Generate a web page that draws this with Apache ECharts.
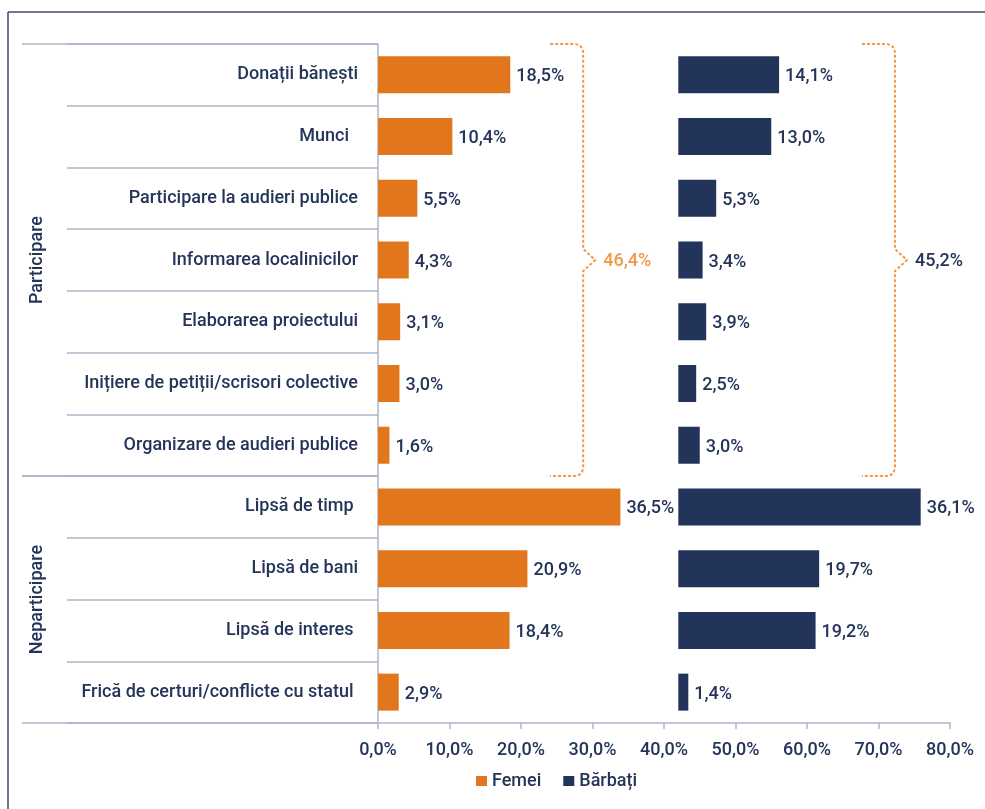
<!DOCTYPE html>
<html>
<head>
<meta charset="utf-8">
<script src="https://cdn.jsdelivr.net/npm/echarts@6/dist/echarts.min.js"></script>
<style>
  html, body { margin: 0; padding: 0; background: #fff; }
  #chart { width: 985px; height: 809px; }
</style>
</head>
<body>
<div id="chart"></div>
<script>
// Data
const categories = [
  'Donații bănești',
  'Munci  ',
  'Participare la audieri publice',
  'Informarea localinicilor',
  'Elaborarea proiectului',
  'Inițiere de petiții/scrisori colective',
  'Organizare de audieri publice',
  'Lipsă de timp ',
  'Lipsă de bani',
  'Lipsă de interes ',
  'Frică de certuri/conflicte cu statul ',
]
const femei = [18.5, 10.4, 5.5, 4.3, 3.1, 3.0, 1.6, 36.5, 20.9, 18.4, 2.9]
const barbati = [14.1, 13.0, 5.3, 3.4, 3.9, 2.5, 3.0, 36.1, 19.7, 19.2, 1.4]
const groups = [
  { name: 'Participare', from: 0, to: 6 },
  { name: 'Neparticipare', from: 7, to: 10 },
]
const seriesNames = ['Femei', 'Bărbați']

// Layout of the two panels on the shared 0-80 % axis
const navyStart = 42 // men's bars start here
const barCap = 33.9 // the original trims the two longest bars so they don't run into the next panel

// Colors
const navy = '#22345a'
const text = '#243559'
const orange = '#e1761d'
const braceOrange = '#f0994b'
const gridGray = '#aeb5c8'
const font = 'Roboto'

const pct = (v) => v.toFixed(1).replace('.', ',') + '%'
const sum = (arr, from, to) => arr.slice(from, to + 1).reduce((a, b) => a + b, 0)

const braces = [
  { x: 28.7, total: sum(femei, groups[0].from, groups[0].to), color: braceOrange },
  { x: 72.3, total: sum(barbati, groups[0].from, groups[0].to), color: text },
]

const chart = echarts.init(document.getElementById('chart'))

const option = {
  animation: false,
  backgroundColor: '#fff',
  textStyle: { fontFamily: font },
  grid: { left: 378, right: 35, top: 44, bottom: 86, outerBoundsMode: 'none' },
  legend: {
    data: seriesNames,
    selectedMode: false,
    left: 476,
    top: 772,
    padding: 0,
    icon: 'rect',
    itemWidth: 11,
    itemHeight: 10,
    itemGap: 22,
    textStyle: { fontSize: 18, fontWeight: 500, color: text, fontFamily: font },
  },
  xAxis: {
    type: 'value',
    min: 0,
    max: 80,
    interval: 10,
    axisLine: { show: true, lineStyle: { color: gridGray, width: 1.5 } },
    axisTick: { show: true, length: 6, lineStyle: { color: gridGray, width: 1.5 } },
    splitLine: { show: false },
    axisLabel: {
      formatter: pct,
      margin: 18,
      fontSize: 18,
      fontWeight: 500,
      color: text,
      fontFamily: font,
    },
  },
  yAxis: {
    type: 'category',
    data: categories,
    inverse: true,
    axisLine: { show: true, lineStyle: { color: gridGray, width: 1.5 } },
    axisTick: { show: true, length: 311, interval: 0, lineStyle: { color: gridGray, width: 1.5 } },
    axisLabel: {
      interval: 0,
      margin: 20,
      padding: [4, 0, 0, 0],
      fontSize: 18,
      fontWeight: 500,
      color: text,
      fontFamily: font,
    },
  },
  series: [
    {
      name: seriesNames[0],
      type: 'bar',
      data: femei.map((v) => Math.min(v, barCap)),
      barWidth: 37,
      barGap: '-100%',
      itemStyle: { color: orange },
      label: {
        show: true,
        position: 'right',
        distance: 6,
        offset: [0, 2],
        formatter: (p) => pct(femei[p.dataIndex]),
        fontSize: 18,
        fontWeight: 500,
        color: text,
        fontFamily: font,
      },
    },
    {
      name: 'offset',
      type: 'bar',
      stack: 'men',
      data: barbati.map(() => navyStart),
      barWidth: 37,
      barGap: '-100%',
      silent: true,
      itemStyle: { color: 'rgba(0,0,0,0)' },
    },
    {
      name: seriesNames[1],
      type: 'bar',
      stack: 'men',
      data: barbati.map((v) => Math.min(v, barCap)),
      barWidth: 37,
      barGap: '-100%',
      itemStyle: { color: navy },
      label: {
        show: true,
        position: 'right',
        distance: 6,
        offset: [0, 2],
        formatter: (p) => pct(barbati[p.dataIndex]),
        fontSize: 18,
        fontWeight: 500,
        color: text,
        fontFamily: font,
      },
    },
    // group separators and rotated group titles
    {
      type: 'custom',
      silent: true,
      data: groups.map((g) => [0, g.from]),
      renderItem: (params, api) => {
        const g = groups[params.dataIndex]
        const band = api.size([0, 1])[1]
        const x0 = api.coord([0, g.from])[0]
        const yTop = api.coord([0, g.from])[1] - band / 2
        const yBot = api.coord([0, g.to])[1] + band / 2
        const lineStyle = { stroke: gridGray, lineWidth: 1.5 }
        return {
          type: 'group',
          children: [
            { type: 'line', shape: { x1: x0 - 356, y1: yTop, x2: x0, y2: yTop }, style: lineStyle },
            { type: 'line', shape: { x1: x0 - 356, y1: yBot, x2: x0, y2: yBot }, style: lineStyle },
            {
              type: 'text',
              x: x0 - 341,
              y: (yTop + yBot) / 2,
              rotation: Math.PI / 2,
              style: {
                text: g.name,
                fill: text,
                font: `500 18px ${font}`,
                align: 'center',
                verticalAlign: 'middle',
              },
            },
          ],
        }
      },
    },
    // dotted braces with the participation totals
    {
      type: 'custom',
      silent: true,
      data: braces.map((b) => [b.x, groups[0].from]),
      renderItem: (params, api) => {
        const b = braces[params.dataIndex]
        const g = groups[0]
        const band = api.size([0, 1])[1]
        const x = api.coord([b.x, g.from])[0]
        const yT = api.coord([b.x, g.from])[1] - band / 2
        const yB = api.coord([b.x, g.to])[1] + band / 2
        const yM = (yT + yB) / 2
        const r = 10
        const d = `M${x - 33} ${yT} L${x - r} ${yT} Q${x} ${yT} ${x} ${yT + r} ` +
          `L${x} ${yM - 11} L${x + 12} ${yM} L${x} ${yM + 11} ` +
          `L${x} ${yB - r} Q${x} ${yB} ${x - r} ${yB} L${x - 33} ${yB}`
        return {
          type: 'group',
          children: [
            {
              type: 'path',
              shape: { pathData: d },
              style: { fill: 'none', stroke: braceOrange, lineWidth: 2, lineDash: [3, 2] },
            },
            {
              type: 'text',
              x: x + 20,
              y: yM + 1,
              style: {
                text: pct(b.total),
                fill: b.color,
                font: `500 18px ${font}`,
                align: 'left',
                verticalAlign: 'middle',
              },
            },
          ],
        }
      },
    },
  ],
  graphic: [
    { type: 'line', shape: { x1: 8, y1: 12, x2: 985, y2: 12 }, style: { stroke: '#3d4b6d', lineWidth: 1.5 } },
    { type: 'line', shape: { x1: 8, y1: 12, x2: 8, y2: 809 }, style: { stroke: '#3d4b6d', lineWidth: 1.5 } },
  ],
}

chart.setOption(option)
</script>
</body>
</html>
